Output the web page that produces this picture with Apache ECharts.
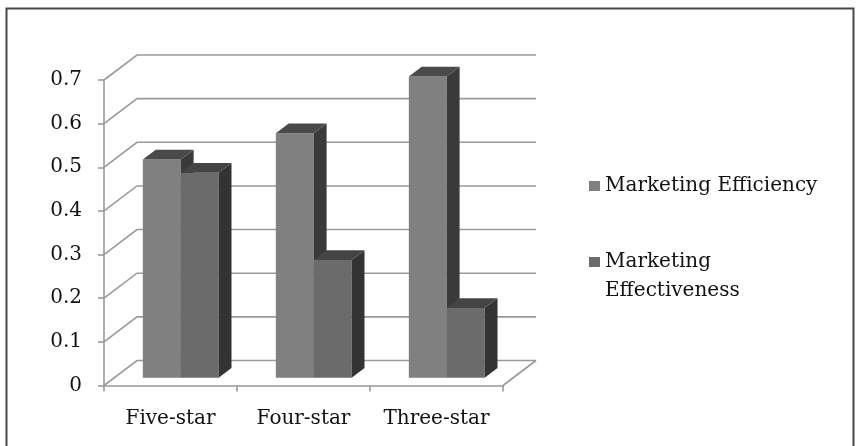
<!DOCTYPE html>
<html>
<head>
<meta charset="utf-8">
<script src="https://cdn.jsdelivr.net/npm/echarts@6/dist/echarts.min.js"></script>
<style>
  html, body { margin: 0; padding: 0; background: #fff; }
  #chart { width: 860px; height: 446px; }
</style>
</head>
<body>
<div id="chart"></div>
<script>
// Hotel classes and the two marketing scores per class
const categories = ['Five-star', 'Four-star', 'Three-star'];
const seriesNames = ['Marketing Efficiency', 'Marketing Effectiveness'];
const efficiency = [0.50, 0.56, 0.69];
const effectiveness = [0.47, 0.27, 0.16];
const yTicks = [0, 0.1, 0.2, 0.3, 0.4, 0.5, 0.6, 0.7];

// Pseudo-3D look: depth vector of the back wall, and where bars sit inside it
const DEPTH = [33, -25];
const BAR_OFFSET = 0.31;   // fraction of depth in front of the bars
const BAR_DEPTH = 0.39;    // fraction of depth taken by a bar
const BAR_SHARE = 0.285;   // bar width as a share of the category band

const FONT = 'DejaVu Serif';
const GRID_COLOR = '#9a9a9a';
const GRID_WIDTH = 1.6;

const palette = [
  { front: '#808080', side: '#3a3a3a', top: '#4a4a4a' },
  { front: '#6b6b6b', side: '#333333', top: '#444444' }
];

function wallItem(params, api) {
  const cs = params.coordSys;
  const v = api.value(1);
  const y = api.coord([0, v])[1];
  const children = [{
    type: 'polyline',
    shape: { points: [[cs.x, y], [cs.x + DEPTH[0], y + DEPTH[1]], [cs.x + cs.width + DEPTH[0], y + DEPTH[1]]] },
    style: { stroke: GRID_COLOR, lineWidth: GRID_WIDTH, fill: null }
  }];
  if (v === 0) {
    children.push({
      type: 'line',
      shape: { x1: cs.x + cs.width, y1: y, x2: cs.x + cs.width + DEPTH[0], y2: y + DEPTH[1] },
      style: { stroke: GRID_COLOR, lineWidth: GRID_WIDTH }
    });
  }
  return { type: 'group', children };
}

function barRenderer(slot) {
  const c = palette[slot];
  return function (params, api) {
    const i = api.value(0);
    const v = api.value(1);
    const base = api.coord([i, 0]);
    const topPt = api.coord([i, v]);
    const band = api.size([1, 0])[0];
    const w = band * BAR_SHARE;
    const ox = DEPTH[0] * BAR_OFFSET, oy = DEPTH[1] * BAR_OFFSET;
    const dx = DEPTH[0] * BAR_DEPTH, dy = DEPTH[1] * BAR_DEPTH;
    const x0 = base[0] + (slot === 0 ? -w : 0) + ox;
    const yb = base[1] + oy;
    const yt = topPt[1] + oy;
    return {
      type: 'group',
      children: [
        { type: 'rect', shape: { x: x0, y: yt, width: w, height: yb - yt }, style: { fill: c.front } },
        { type: 'polygon', shape: { points: [[x0 + w, yt], [x0 + w + dx, yt + dy], [x0 + w + dx, yb + dy], [x0 + w, yb]] }, style: { fill: c.side } },
        { type: 'polygon', shape: { points: [[x0, yt], [x0 + dx, yt + dy], [x0 + w + dx, yt + dy], [x0 + w, yt]] }, style: { fill: c.top } }
      ]
    };
  };
}

const chart = echarts.init(document.getElementById('chart'), null, { renderer: 'canvas' });

chart.setOption({
  animation: false,
  backgroundColor: '#ffffff',
  textStyle: { fontFamily: FONT },
  graphic: [{
    type: 'rect',
    shape: { x: 6.5, y: 8.5, width: 847, height: 460 },
    style: { fill: null, stroke: '#474747', lineWidth: 2 },
    silent: true
  }],
  grid: { left: 104, right: 357, top: 80, bottom: 60.5 },
  xAxis: {
    type: 'category',
    data: categories,
    axisLine: { lineStyle: { color: GRID_COLOR, width: GRID_WIDTH } },
    axisTick: { show: true, length: 6, lineStyle: { color: GRID_COLOR, width: GRID_WIDTH } },
    axisLabel: { interval: 0, color: '#111', fontFamily: FONT, fontSize: 20, margin: 23 },
    splitLine: { show: false }
  },
  yAxis: {
    type: 'value',
    min: 0,
    max: 0.7,
    interval: 0.1,
    axisLine: { show: true, lineStyle: { color: GRID_COLOR, width: GRID_WIDTH } },
    axisTick: { show: true, length: 6, lineStyle: { color: GRID_COLOR, width: GRID_WIDTH } },
    axisLabel: { color: '#111', fontFamily: FONT, fontSize: 20, margin: 22 },
    splitLine: { show: false }
  },
  legend: [{
    orient: 'vertical',
    left: 589,
    top: 170,
    padding: 0,
    itemWidth: 11,
    itemHeight: 10,
    icon: 'rect',
    data: [seriesNames[0]],
    textStyle: { color: '#111', fontFamily: FONT, fontSize: 20, lineHeight: 29, padding: [3, 0, 0, 0] },
    itemGap: 0
  }, {
    orient: 'vertical',
    left: 589,
    top: 217,
    padding: 0,
    itemWidth: 11,
    itemHeight: 10,
    icon: 'rect',
    data: [seriesNames[1]],
    formatter: () => ' \nMarketing\nEffectiveness',
    textStyle: { color: '#111', fontFamily: FONT, fontSize: 20, lineHeight: 29, padding: [3, 0, 0, 0] },
    itemGap: 0
  }],
  series: [
    {
      type: 'custom',
      name: 'walls',
      silent: true,
      renderItem: wallItem,
      data: yTicks.map(v => [0, v]),
      z: 1
    },
    {
      type: 'custom',
      name: seriesNames[0],
      renderItem: barRenderer(0),
      itemStyle: { color: palette[0].front },
      data: efficiency.map((v, i) => [i, v]),
      z: 2
    },
    {
      type: 'custom',
      name: seriesNames[1],
      renderItem: barRenderer(1),
      itemStyle: { color: palette[1].front },
      data: effectiveness.map((v, i) => [i, v]),
      z: 2
    }
  ]
});
</script>
</body>
</html>
